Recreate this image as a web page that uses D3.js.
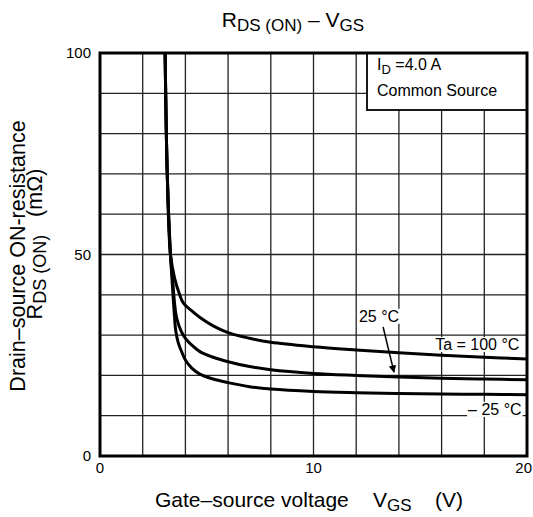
<!DOCTYPE html>
<html>
<head>
<meta charset="utf-8">
<script src="https://cdn.jsdelivr.net/npm/d3@7"></script>
<style>
  body { margin: 0; background: #fff; }
  text { font-family: Arial, "Liberation Sans", sans-serif; fill: #000; }
</style>
</head>
<body>
<div id="chart"></div>
<script>
// gate-source voltage (V) and on-resistance (mOhm)
let vgs100 = [3.05, 3.15, 3.3, 3.5, 3.7, 3.9, 4.3, 4.7, 5.3, 6, 7, 8, 10, 12, 14, 16, 18, 20];
let rds100 = [100, 70, 50, 44, 40.5, 38, 36, 34.3, 32.3, 30.6, 29.2, 28.2, 27.1, 26.3, 25.6, 25, 24.5, 24.1];

let vgs25 = [3.05, 3.15, 3.3, 3.4, 3.5, 3.6, 3.8, 4, 4.3, 4.68, 5.3, 6, 7, 8, 10, 12, 14, 16, 18, 20];
let rds25 = [100, 70, 50, 44, 37.5, 34, 31, 29.2, 27.5, 25.9, 24.5, 23.4, 22.2, 21.4, 20.5, 20, 19.6, 19.3, 19.1, 18.9];

let vgsM25 = [3.05, 3.15, 3.3, 3.37, 3.47, 3.55, 3.67, 3.83, 4, 4.3, 4.68, 5.3, 6, 7, 8, 10, 12, 14, 16, 18, 20];
let rdsM25 = [100, 70, 50, 44, 36, 31, 28, 25.8, 23.8, 21.8, 20.3, 19.1, 18.2, 17.2, 16.6, 16, 15.7, 15.5, 15.4, 15.3, 15.2];

let xTickLabels = [0, 10, 20];
let yTickLabels = [0, 50, 100];

let width = 533;
let height = 517;
let margin = {left: 100, right: 6, top: 53, bottom: 61};

let svg = d3.select("#chart").append("svg")
    .attr("width", width)
    .attr("height", height);

let x = d3.scaleLinear().domain([0, 20]).range([margin.left, width - margin.right]);
let y = d3.scaleLinear().domain([0, 100]).range([height - margin.bottom, margin.top]);

// grid
svg.append("g").selectAll("line")
    .data(d3.range(2, 20, 2))
    .join("line")
    .attr("x1", d => x(d)).attr("x2", d => x(d))
    .attr("y1", y(100)).attr("y2", y(0))
    .attr("stroke", "#222").attr("stroke-width", 1.3);

svg.append("g").selectAll("line")
    .data(d3.range(10, 100, 10))
    .join("line")
    .attr("x1", x(0)).attr("x2", x(20))
    .attr("y1", d => y(d)).attr("y2", d => y(d))
    .attr("stroke", "#222").attr("stroke-width", 1.3);

// curves
svg.append("clipPath").attr("id", "plotClip")
    .append("rect")
    .attr("x", x(0)).attr("y", y(100))
    .attr("width", x(20) - x(0)).attr("height", y(0) - y(100));

let line = d3.line()
    .x(d => x(d[0]))
    .y(d => y(d[1]))
    .curve(d3.curveCatmullRom.alpha(0.5));

let series = [
    d3.zip(vgs100, rds100),
    d3.zip(vgs25, rds25),
    d3.zip(vgsM25, rdsM25)
];

svg.append("g").attr("clip-path", "url(#plotClip)")
    .selectAll("path")
    .data(series)
    .join("path")
    .attr("d", line)
    .attr("fill", "none")
    .attr("stroke", "#000")
    .attr("stroke-width", 3);

// legend box
svg.append("rect")
    .attr("x", 367).attr("y", y(100))
    .attr("width", x(20) - 367).attr("height", 110 - y(100))
    .attr("fill", "#fff").attr("stroke", "#000").attr("stroke-width", 1.8);

let leg1 = svg.append("text").attr("x", 377).attr("y", 70).style("font-size", "16px");
leg1.append("tspan").text("I");
leg1.append("tspan").attr("dy", 4).style("font-size", "13px").text("D");
leg1.append("tspan").attr("dy", -4).text(" =4.0 A");
svg.append("text").attr("x", 377).attr("y", 96).style("font-size", "16px").text("Common Source");

// frame
svg.append("rect")
    .attr("x", x(0)).attr("y", y(100))
    .attr("width", x(20) - x(0)).attr("height", y(0) - y(100))
    .attr("fill", "none").attr("stroke", "#000").attr("stroke-width", 3);

// curve labels with white backing
let labels = [
    {t: "25 °C", v: 13.07, r: 33.3, anchor: "middle"},
    {t: "Ta = 100 °C", v: 15.7, r: 26.3, anchor: "start"},
    {t: "– 25 °C", v: 17.24, r: 10.2, anchor: "start"}
];
labels.forEach(l => {
    let tx = svg.append("text")
        .attr("x", x(l.v)).attr("y", y(l.r))
        .attr("text-anchor", l.anchor)
        .style("font-size", "16px")
        .text(l.t);
    let bb = tx.node().getBBox();
    svg.insert("rect", function() { return tx.node(); })
        .attr("x", bb.x - 1).attr("y", bb.y + 1)
        .attr("width", bb.width + 2).attr("height", bb.height - 2)
        .attr("fill", "#fff");
});

// arrow for 25 C
svg.append("defs").append("marker")
    .attr("id", "arrow")
    .attr("viewBox", "0 0 10 10")
    .attr("refX", 9).attr("refY", 5)
    .attr("markerWidth", 5).attr("markerHeight", 5)
    .attr("orient", "auto")
    .append("path").attr("d", "M0,0 L10,5 L0,10 z").attr("fill", "#000");

svg.append("line")
    .attr("x1", x(13.26)).attr("y1", y(32))
    .attr("x2", x(13.77)).attr("y2", y(20.8))
    .attr("stroke", "#000").attr("stroke-width", 1.5)
    .attr("marker-end", "url(#arrow)");

// tick labels
svg.append("g").selectAll("text")
    .data(xTickLabels)
    .join("text")
    .attr("x", d => d === 20 ? width - 1 : x(d)).attr("y", y(0) + 17)
    .attr("text-anchor", d => d === 20 ? "end" : "middle")
    .style("font-size", "15px")
    .text(d => d);

svg.append("g").selectAll("text")
    .data(yTickLabels)
    .join("text")
    .attr("x", x(0) - 9).attr("y", d => y(d) + 5)
    .attr("text-anchor", "end")
    .style("font-size", "15px")
    .text(d => d);

// title
let title = svg.append("text").attr("x", 293).attr("y", 27)
    .attr("text-anchor", "middle").style("font-size", "21px");
title.append("tspan").text("R");
title.append("tspan").attr("dy", 4).style("font-size", "17px").text("DS (ON)");
title.append("tspan").attr("dy", -4).text(" – V");
title.append("tspan").attr("dy", 4).style("font-size", "17px").text("GS");

// x axis title
let xt = svg.append("text").attr("y", 507).style("font-size", "21px");
xt.append("tspan").attr("x", 155).text("Gate–source voltage");
xt.append("tspan").attr("x", 373).text("V");
xt.append("tspan").attr("dy", 4).style("font-size", "17px").text("GS");
xt.append("tspan").attr("x", 435).attr("dy", -4).text("(V)");

// y axis title
svg.append("text")
    .attr("transform", "translate(25,256) rotate(-90)")
    .attr("text-anchor", "middle")
    .style("font-size", "21.5px")
    .text("Drain–source ON-resistance");

let yt = svg.append("text")
    .attr("transform", "translate(42,244) rotate(-90)")
    .attr("text-anchor", "middle")
    .style("font-size", "21.5px");
yt.append("tspan").text("R");
yt.append("tspan").attr("dy", 4).style("font-size", "18px").text("DS (ON)");
yt.append("tspan").attr("dy", -4).text("\u00a0\u00a0\u00a0(mΩ)");
</script>
</body>
</html>
